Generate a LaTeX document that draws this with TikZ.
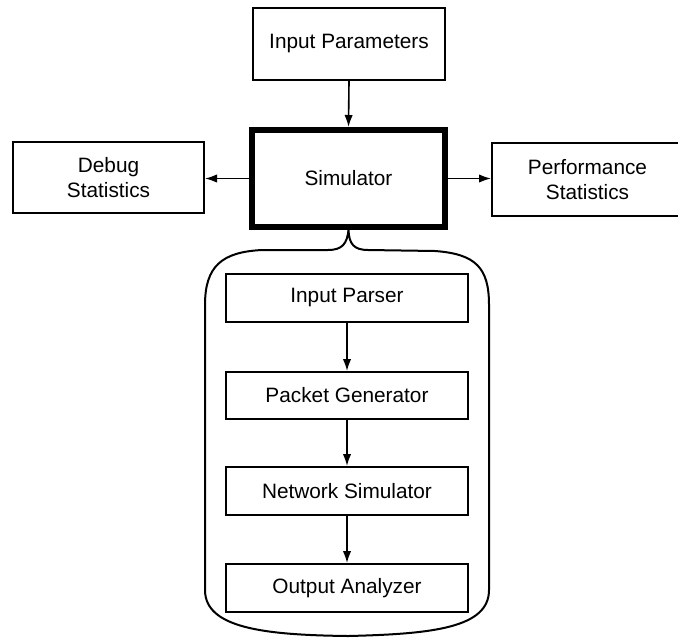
\documentclass[tikz,border=0pt]{standalone}
\usepackage{fontspec}
\setmainfont{Liberation Sans}
\usetikzlibrary{arrows.meta}
\begin{document}
\begin{tikzpicture}[x=0.5pt,y=-0.5pt,
  box/.style={draw,line width=1pt,inner sep=0pt,align=center,
    font=\fontsize{10.4}{12.5}\selectfont},
  inbox/.style={box,minimum width=121pt,minimum height=24pt},
  conn/.style={line width=0.8pt,-{Latex[length=6pt,width=4.2pt]}}]
\useasboundingbox (0,0) rectangle (678,637);
\clip (0,0) rectangle (678,637);
\node[box,minimum width=96pt,minimum height=36pt] (ip) at (349,44) {Input Parameters};
\node[box,line width=3pt,minimum width=96.5pt,minimum height=48.5pt] (sim) at (348.5,178.5) {Simulator};
\node[box,minimum width=95.5pt,minimum height=35.5pt] (dbg) at (108.5,177.5) {Debug\\Statistics};
\node[box,minimum width=95.5pt,minimum height=36.5pt] (perf) at (587.5,179.5) {Performance\\Statistics};
\node[inbox] (parser) at (347,297.5) {Input Parser};
\node[inbox,minimum height=23.5pt] (gen) at (347,395.5) {Packet Generator};
\node[inbox] (net) at (347,491) {Network Simulator};
\node[inbox] (out) at (347,588) {Output Analyzer};
\draw[conn] (ip.south) -- (sim.north);
\draw[conn] (sim.west) -- (sim.west -| dbg.east);
\draw[conn] (sim.east) -- (sim.east -| perf.west);
\draw[conn] (parser) -- (gen);
\draw[conn] (gen) -- (net);
\draw[conn] (net) -- (out);
% brace-shaped enclosure
\coordinate (tip) at (sim.south);
\draw[line width=1pt]
  (tip) .. controls (349,244) and (354,250) .. (368,250)
  -- (435,251) .. controls (476,254) and (489,268) .. (489,305)
  -- (489,590) .. controls (489,628) and (432,634) .. (348,636)
  .. controls (264,635) and (205,628) .. (205,590)
  -- (205,305) .. controls (205,266) and (222,252) .. (262,250)
  -- (328,250) .. controls (342,250) and (347,244) .. (tip);
\end{tikzpicture}
\end{document}
